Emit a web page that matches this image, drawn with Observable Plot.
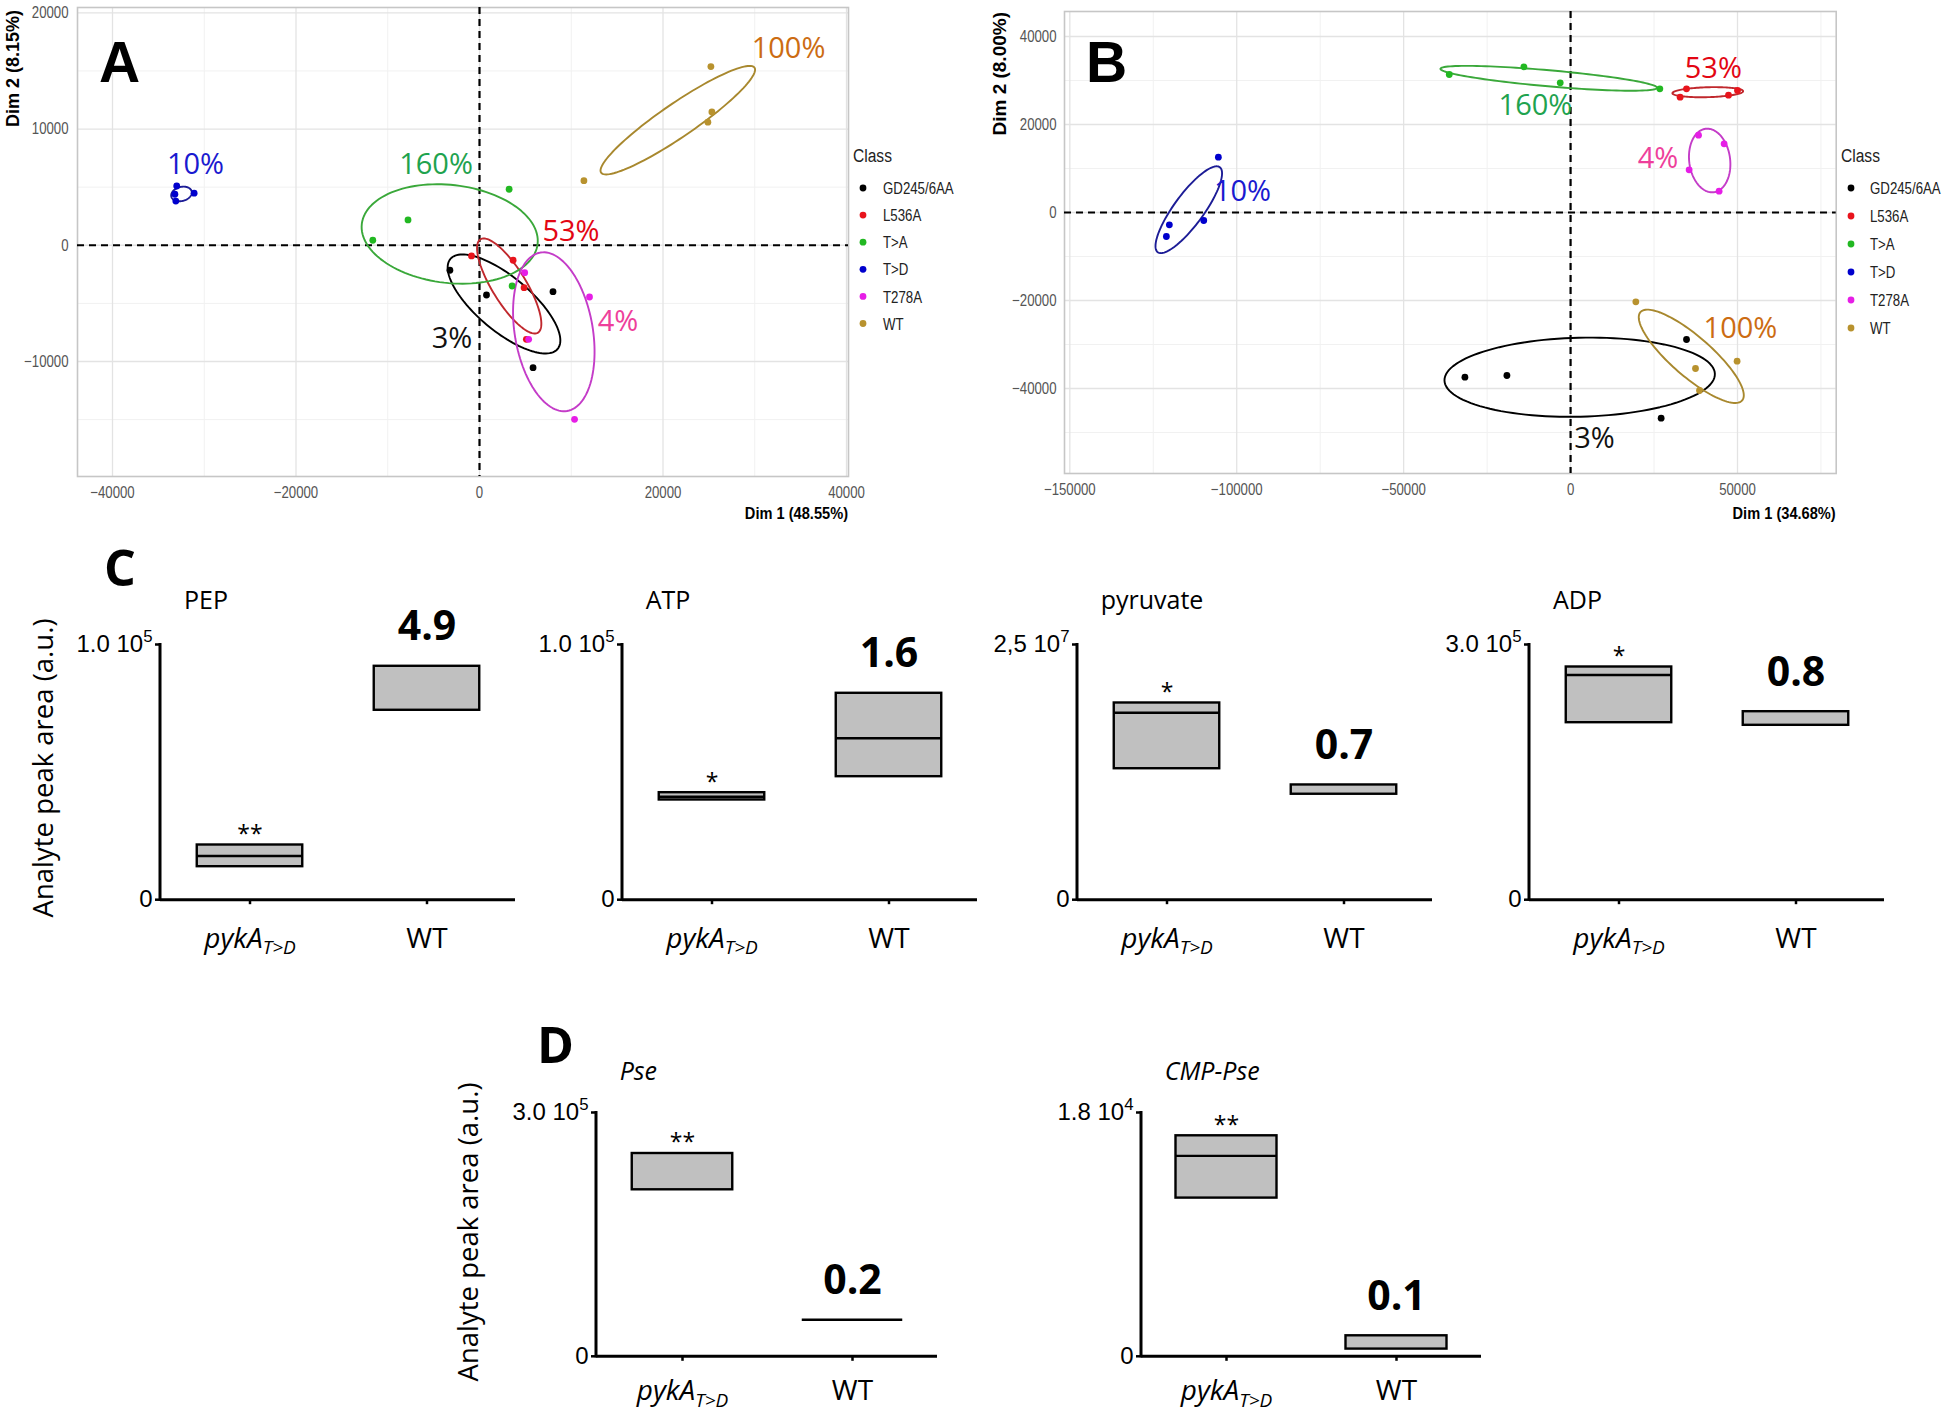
<!DOCTYPE html>
<html><head><meta charset="utf-8">
<script src="https://cdn.jsdelivr.net/npm/d3@7"></script>
<script src="https://cdn.jsdelivr.net/npm/@observablehq/plot@0.6"></script>
<style>
body{margin:0;background:#fff;}
#fig{position:relative;width:1944px;height:1412px;background:#fff;overflow:hidden;}
#fig > svg{position:absolute;margin:0;max-width:none;}
</style></head><body><div id="fig"></div>
<script>
// ---------------- DATA ----------------
const classes = ["GD245/6AA", "L536A", "T>A", "T>D", "T278A", "WT"];
const classColors = ["#000000", "#e8141c", "#22b822", "#0000cd", "#e61ee6", "#b8922e"];
const ellipseColors = ["#000000", "#c0282d", "#3aa83a", "#1c1c96", "#c43cc8", "#a8882e"];

// PCA A: [class, Dim1, Dim2]
const pcaA_points = [
  ["GD245/6AA", -3225, -2150], ["GD245/6AA", 761, -4277], ["GD245/6AA", 8011, -3993], ["GD245/6AA", 5837, -10534],
  ["L536A", -870, -921], ["L536A", 3663, -1291], ["L536A", 4859, -3649], ["L536A", 5109, -8090],
  ["T>A", -11630, 430], ["T>A", -7790, 2180], ["T>A", 3228, 4819], ["T>A", 3554, -3503],
  ["T>D", -33000, 5100], ["T>D", -33100, 3800], ["T>D", -31100, 4480], ["T>D", -33200, 4390],
  ["T278A", 4924, -2358], ["T278A", 5359, -8090], ["T278A", 11989, -4449], ["T278A", 10359, -14974],
  ["WT", 25220, 15370], ["WT", 25330, 11470], ["WT", 24890, 10590], ["WT", 11380, 5560]
];
// ellipses: [class, centre x, centre y, major semi-axis dx, dy, minor/major ratio]
const pcaA_ellipses = [
  ["GD245/6AA", 2670, -5050, 5842, -3872, 0.386],
  ["L536A", 3237, -3502, 3128, -4018, 0.31],
  ["T>A", -3248, 972, 9580, -860, 0.554],
  ["T>D", -32480, 4414, 1105, 234, 0.67],
  ["T278A", 8098, -7442, 1460, -6814, 0.486],
  ["WT", 21613, 10763, 8360, 4517, 0.18]
];
const pcaA_notes = [
  ["10%", -30954, 6910, "#1a1ad0"], ["160%", -4741, 6910, "#1fa34f"], ["53%", 9973, 1144, "#e30613"],
  ["4%", 15095, -6600, "#ee3f9b"], ["100%", 33678, 16932, "#cc6c12"], ["3%", -2997, -8062, "#111111"]
];
const pcaA_xTicks = [-40000, -20000, 0, 20000, 40000];
const pcaA_xMinor = [-30000, -10000, 10000, 30000];
const pcaA_yTicks = [-10000, 0, 10000, 20000];
const pcaA_yMinor = [-15000, -5000, 5000, 15000];
const pcaA_xTitle = "Dim 1 (48.55%)";
const pcaA_yTitle = "Dim 2 (8.15%)";

// PCA B
const pcaB_points = [
  ["GD245/6AA", -31650, -37430], ["GD245/6AA", -19070, -37050], ["GD245/6AA", 34730, -28860], ["GD245/6AA", 27130, -46750],
  ["L536A", 34730, 28110], ["L536A", 32810, 26210], ["L536A", 47300, 26660], ["L536A", 50000, 27730],
  ["T>A", -36340, 31360], ["T>A", -13980, 33110], ["T>A", -3100, 29470], ["T>A", 26740, 28110],
  ["T>D", -105500, 12570], ["T>D", -120180, -2800], ["T>D", -121070, -5450], ["T>D", -109880, -1820],
  ["T278A", 38320, 17570], ["T278A", 45990, 15610], ["T278A", 35510, 9700], ["T278A", 44490, 4840],
  ["WT", 19550, -20300], ["WT", 37420, -35450], ["WT", 49880, -33790], ["WT", 38620, -40450]
];
const pcaB_ellipses = [
  ["GD245/6AA", 2726, -37432, 40497, 750, 0.292],
  ["L536A", 41096, 27341, 10589, 227, 0.14],
  ["T>A", -6530, 30500, 32455, -2159, 0.074],
  ["T>D", -114363, 636, 9286, 9659, 0.285],
  ["T278A", 41665, 11818, 1243, -7205, 0.64],
  ["WT", 36154, -32682, 15231, -10034, 0.297]
];
const pcaB_notes = [
  ["10%", -98278, 4773, "#1a1ad0"], ["160%", -10514, 24318, "#1fa34f"], ["53%", 42744, 32727, "#e30613"],
  ["4%", 26179, 12273, "#ee3f9b"], ["100%", 50891, -26364, "#cc6c12"], ["3%", 7159, -51364, "#111111"]
];
const pcaB_xTicks = [-150000, -100000, -50000, 0, 50000];
const pcaB_xMinor = [-125000, -75000, -25000, 25000, 75000];
const pcaB_yTicks = [-40000, -20000, 0, 20000, 40000];
const pcaB_yMinor = [-50000, -30000, -10000, 10000, 30000];
const pcaB_xTitle = "Dim 1 (34.68%)";
const pcaB_yTitle = "Dim 2 (8.00%)";

// Panels C and D: floating bars (min - max, line = median)
const groups = ["pykA_T>D", "WT"];
const metabolites = ["PEP", "ATP", "pyruvate", "ADP", "Pse", "CMP-Pse"];
const yMax = [1.0e5, 1.0e5, 2.5e7, 3.0e5, 3.0e5, 1.8e4];
const yTopLabel = ["1.0 10^5", "1.0 10^5", "2,5 10^7", "3.0 10^5", "3.0 10^5", "1.8 10^4"];
const pykMin = [12930, 39070, 12.83e6, 208070, 204880, 11680];
const pykMed = [17120, 40360, 18.32e6, 264150, null, 14800];
const pykMax = [21430, 41930, 19.27e6, 273550, 249550, 16280];
const wtMin = [74220, 48200, 10.33e6, 205000, 44910, 532];
const wtMed = [null, 63240, null, null, 44910, null];
const wtMax = [91460, 80880, 11.24e6, 221000, 44910, 1514];
const signif = ["**", "*", "*", "*", "**", "**"];
const foldChange = ["4.9", "1.6", "0.7", "0.8", "0.2", "0.1"];
const yAxisTitle = "Analyte peak area (a.u.)";

// ---------------- LAYOUT ----------------
const fig = document.getElementById("fig");
const ARIAL = "'Liberation Sans', Arial, sans-serif";
const SANS = "'Open Sans', 'Noto Sans', sans-serif";

// horizontally compress texts (emulates the narrow font of the original)
function squeeze(sel, f) {
  sel.each(function() {
    const tr = this.getAttribute("transform");
    if (tr) this.setAttribute("transform", tr + ` scale(${f},1)`);
    else {
      const x = +this.getAttribute("x") || 0, y = +this.getAttribute("y") || 0;
      this.setAttribute("transform", `translate(${x},${y}) scale(${f},1)`);
      this.removeAttribute("x"); this.removeAttribute("y");
    }
  });
}

function ellipsePts(e, kx, ky) {
  const [c, cx, cy, ax, ay, ratio] = e;
  const mx = ax * kx, my = -ay * ky;
  const bx = (-my * ratio) / kx, by = -(mx * ratio) / ky;
  const n = 120;
  return d3.range(n + 1).map(i => {
    const t = 2 * Math.PI * i / n;
    return {c, x: cx + Math.cos(t) * ax + Math.sin(t) * bx, y: cy + Math.cos(t) * ay + Math.sin(t) * by};
  });
}

function pcaPanel(o) {
  const fw = o.width - o.mL - o.mR, fh = o.height - o.mT - o.mB;
  const kx = fw / (o.xDomain[1] - o.xDomain[0]), ky = fh / (o.yDomain[1] - o.yDomain[0]);
  const pts = o.points.map(([c, x, y]) => ({c, x, y}));
  const marks = [
    Plot.gridX(o.xMinor, {stroke: "#f1f1f1", strokeOpacity: 1, strokeWidth: 1}),
    Plot.gridY(o.yMinor, {stroke: "#f1f1f1", strokeOpacity: 1, strokeWidth: 1}),
    Plot.gridX(o.xTicks, {stroke: "#e3e3e3", strokeOpacity: 1, strokeWidth: 1.3}),
    Plot.gridY(o.yTicks, {stroke: "#e3e3e3", strokeOpacity: 1, strokeWidth: 1.3}),
    Plot.frame({stroke: "#c6c6c6", strokeWidth: 1.6}),
    Plot.ruleY([0], {stroke: "#000", strokeWidth: 2.2, strokeDasharray: "7,5"}),
    Plot.ruleX([0], {stroke: "#000", strokeWidth: 2.2, strokeDasharray: "7,5"})
  ];
  classes.forEach((c, i) => {
    const e = o.ellipses.find(d => d[0] === c);
    if (e) marks.push(Plot.line(ellipsePts(e, kx, ky), {x: "x", y: "y", stroke: ellipseColors[i], strokeWidth: 1.9}));
  });
  classes.forEach((c, i) => {
    marks.push(Plot.dot(pts.filter(d => d.c === c), {x: "x", y: "y", fill: classColors[i], r: 3.4}));
  });
  o.notes.forEach(([t, x, y, col]) => {
    marks.push(Plot.text([{t, x, y}], {x: "x", y: "y", text: "t", fill: col, fontSize: 29, fontFamily: SANS, textAnchor: "middle", lineAnchor: "middle"}));
  });
  marks.push(Plot.axisX(o.xTicks, {tickSize: 0, tickPadding: 10, tickFormat: d3.format("d"), label: null, fontSize: 16.5, fontFamily: ARIAL, fill: "#555"}));
  marks.push(Plot.axisY(o.yTicks, {tickSize: 0, tickPadding: o.yPad, tickFormat: d3.format("d"), label: null, fontSize: 16.5, fontFamily: ARIAL, fill: "#555"}));
  const svg = Plot.plot({
    width: o.width, height: o.height,
    marginLeft: o.mL, marginRight: o.mR, marginTop: o.mT, marginBottom: o.mB,
    x: {domain: o.xDomain}, y: {domain: o.yDomain},
    style: {background: "none", overflow: "visible", fontFamily: ARIAL},
    marks
  });
  squeeze(d3.select(svg).selectAll('g[aria-label="x-axis tick label"] text, g[aria-label="y-axis tick label"] text'), 0.8);
  svg.style.left = o.left + "px";
  svg.style.top = o.top + "px";
  fig.appendChild(svg);
}

pcaPanel({points: pcaA_points, ellipses: pcaA_ellipses, notes: pcaA_notes,
  xDomain: [-43815, 40218], yDomain: [-19894, 20456],
  xTicks: pcaA_xTicks, xMinor: pcaA_xMinor, yTicks: pcaA_yTicks, yMinor: pcaA_yMinor,
  left: 0, top: 0, width: 860, height: 530, mL: 77, mR: 12, mT: 7, mB: 54, yPad: 9});

pcaPanel({points: pcaB_points, ellipses: pcaB_ellipses, notes: pcaB_notes,
  xDomain: [-151588, 79564], yDomain: [-59318, 45682],
  xTicks: pcaB_xTicks, xMinor: pcaB_xMinor, yTicks: pcaB_yTicks, yMinor: pcaB_yMinor,
  left: 980, top: 0, width: 860, height: 530, mL: 84, mR: 4.3, mT: 11, mB: 57, yPad: 8});

// ---- panels C & D ----
const chartAxisX = [160, 621.7, 1076.7, 1529, 595.7, 1140.7];
const chartTop = [643.5, 643.5, 643.5, 643.5, 1111.7, 1111.7];
const chartH = [255.2, 255.2, 255.2, 255.2, 243.8, 243.8];
const chartW = [355, 355, 355, 355, 341, 340];
const boxW = [106, 106, 106, 106, 101, 101];

metabolites.forEach((m, i) => {
  const ML = 135, MT = 100, MB = 75, MR = 8;
  const W = chartW[i], H = chartH[i];
  const boxes = [
    {g: groups[0], lo: pykMin[i], hi: pykMax[i], med: pykMed[i]},
    {g: groups[1], lo: wtMin[i], hi: wtMax[i], med: wtMed[i]}
  ];
  const inset = (W / 2 - boxW[i]) / 2;
  const svg = Plot.plot({
    width: ML + W + MR, height: MT + H + MB,
    marginLeft: ML, marginRight: MR, marginTop: MT, marginBottom: MB,
    x: {domain: groups, padding: 0},
    y: {domain: [0, yMax[i]]},
    style: {background: "none", overflow: "visible", color: "#000"},
    marks: [
      Plot.barY(boxes.filter(d => d.hi > d.lo), {x: "g", y1: "lo", y2: "hi", fill: "#c0c0c0", stroke: "#000", strokeWidth: 2.4, insetLeft: inset, insetRight: inset}),
      Plot.tickY(boxes.filter(d => d.med != null), {x: "g", y: "med", stroke: "#000", strokeWidth: 2.4, insetLeft: inset, insetRight: inset}),
      Plot.ruleY([0], {stroke: "#000", strokeWidth: 3}),
      Plot.axisY([0, yMax[i]], {tickSize: 5, tickPadding: 3, strokeWidth: 2.5, tickFormat: d => d === 0 ? "0" : yTopLabel[i], fontSize: 24, fontFamily: ARIAL, label: null}),
      Plot.axisX(groups, {tickSize: 5, tickPadding: i < 4 ? 23 : 19, strokeWidth: 2.5, fontSize: 28, fontFamily: SANS, label: null}),
      Plot.text([boxes[0]], {x: "g", y: "hi", text: () => signif[i], dy: -3, lineAnchor: "bottom", fontSize: 23, fontFamily: SANS}),
      Plot.text([boxes[1]], {x: "g", y: "hi", text: () => foldChange[i], dy: -26, lineAnchor: "bottom", fontSize: 41, fontWeight: "bold", fontFamily: SANS})
    ]
  });
  const s = d3.select(svg);
  s.append("line").attr("x1", ML).attr("x2", ML).attr("y1", MT - 1).attr("y2", MT + H + 1.5)
    .attr("stroke", "#000").attr("stroke-width", 3);
  s.selectAll("text").each(function() {
    const t = this.textContent;
    if (t.includes("_")) {
      const [a, b] = t.split("_");
      const el = d3.select(this).text(null).attr("font-style", "italic");
      el.append("tspan").text(a);
      el.append("tspan").attr("font-size", "0.68em").attr("dy", "0.35em").text(b);
    } else if (t.includes("^")) {
      const [a, b] = t.split("^");
      const el = d3.select(this).text(null);
      el.append("tspan").text(a);
      el.append("tspan").attr("font-size", "0.7em").attr("dy", "-0.6em").text(b);
    }
  });
  svg.style.left = (chartAxisX[i] - ML) + "px";
  svg.style.top = (chartTop[i] - MT) + "px";
  fig.appendChild(svg);
});

// ---- overlay: panel letters, titles, legends ----
const ov = d3.select(fig).append("svg").attr("width", 1944).attr("height", 1412)
  .style("left", "0px").style("top", "0px").style("pointer-events", "none");

const letter = (t, x, y, size, fam) => ov.append("text").attr("x", x).attr("y", y).attr("font-size", size)
  .attr("font-weight", "bold").attr("font-family", fam).text(t);
letter("A", 99, 82, 57, ARIAL);
letter("B", 1086, 82, 57, ARIAL);
letter("C", 104, 586, 50, SANS);
letter("D", 537, 1063, 50, SANS);

const narrowText = (x, y, txt, size, f, attrs = {}) => {
  const t = ov.append("text").attr("transform", `translate(${x},${y}) scale(${f},1)`)
    .attr("font-size", size).attr("font-family", ARIAL).text(txt);
  Object.entries(attrs).forEach(([k, v]) => t.attr(k, v));
  return t;
};

[[pcaA_xTitle, pcaA_yTitle, 848, 19, 10, 18], [pcaB_xTitle, pcaB_yTitle, 1835.7, 1006, 12, 19]].forEach(([xt, yt, xr, yx, yTop, ySize]) => {
  narrowText(xr, 519, xt, 17, 0.86, {"text-anchor": "end", "font-weight": "bold"});
  ov.append("text").attr("transform", `translate(${yx},${yTop}) rotate(-90)`).attr("text-anchor", "end")
    .attr("font-weight", "bold").attr("font-size", ySize).attr("font-family", ARIAL).text(yt);
});

[[853, 863, 883, 188, 27.1], [1841, 1851, 1870, 188, 28]].forEach(([tx, dx, lx, y0, step]) => {
  narrowText(tx, 162, "Class", 19, 0.82, {fill: "#222"});
  classes.forEach((c, i) => {
    ov.append("circle").attr("cx", dx).attr("cy", y0 + i * step).attr("r", 3.4).attr("fill", classColors[i]);
    narrowText(lx, y0 + i * step, c, 17, 0.78, {fill: "#222", dy: "0.36em"});
  });
});

metabolites.forEach((m, i) => {
  ov.append("text").attr("x", chartAxisX[i] + 24).attr("y", chartTop[i] - (i < 4 ? 35 : 32))
    .attr("font-size", 25).attr("font-family", SANS).attr("font-style", i >= 4 ? "italic" : "normal").text(m);
});
[[53, 768], [478, 1232]].forEach(([x, y]) => {
  ov.append("text").attr("transform", `translate(${x},${y}) rotate(-90)`).attr("text-anchor", "middle")
    .attr("font-size", 27.5).attr("font-family", SANS).text(yAxisTitle);
});
</script></body></html>
